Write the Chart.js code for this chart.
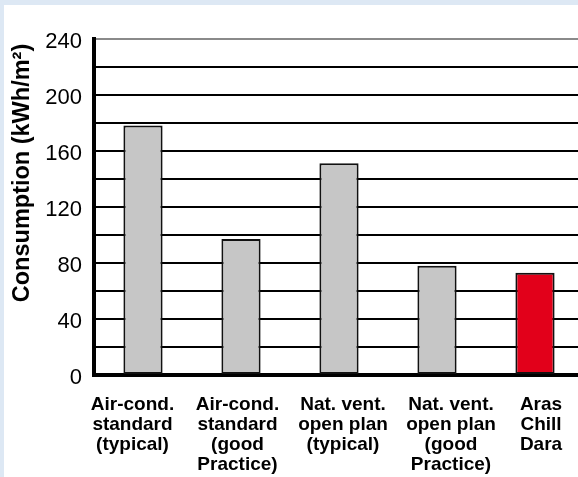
<!DOCTYPE html>
<html>
<head>
<meta charset="utf-8">
<script src="https://cdn.jsdelivr.net/npm/chart.js@4"></script>
<style>
  html, body { margin: 0; padding: 0; overflow: hidden; width: 578px; height: 477px; background: #dde8f4; }
  #panel { position: absolute; left: 4px; top: 5px; width: 600px; height: 500px; background: #ffffff; }
  #chart { position: absolute; left: 0; top: 0; }
</style>
</head>
<body>
<div id="panel"></div>
<canvas id="chart" width="590" height="477"></canvas>
<script>
// Annual energy consumption per building type (kWh/m²)
const categories = [
  ['Air-cond.', 'standard', '(typical)'],
  ['Air-cond.', 'standard', '(good', 'Practice)'],
  ['Nat. vent.', 'open plan', '(typical)'],
  ['Nat. vent.', 'open plan', '(good', 'Practice)'],
  ['Aras', 'Chill', 'Dara']
];
const consumption = [178, 97, 151, 78, 73];
const barColors = ['#c6c6c6', '#c6c6c6', '#c6c6c6', '#c6c6c6', '#e2001a'];
const yTickLabels = [0, 40, 80, 120, 160, 200, 240];
const yTitle = 'Consumption (kWh/m²)';

const FONT = "'Liberation Sans', Arial, Helvetica, sans-serif";
// horizontal nudge of each category caption relative to its bar
const captionShift = [-10.5, -3.5, 4, 14, 6];

// Draws the multi-line category captions and the rotated axis title.
const captionPlugin = {
  id: 'captions',
  afterDraw(chart) {
    const { ctx, scales: { x } } = chart;
    ctx.save();
    ctx.fillStyle = '#000000';
    ctx.textAlign = 'center';
    ctx.textBaseline = 'middle';
    ctx.font = `bold 19px ${FONT}`;
    const lineH = 20;
    chart.data.labels.forEach((lines, i) => {
      const cx = x.getPixelForTick(i) + captionShift[i];
      lines.forEach((t, k) => ctx.fillText(t, cx, x.top + 30 + k * lineH));
    });
    ctx.translate(22.5, 173);
    ctx.rotate(-Math.PI / 2);
    ctx.font = `bold 23.5px ${FONT}`;
    ctx.fillText(yTitle, 0, 0);
    ctx.restore();
  }
};

new Chart(document.getElementById('chart'), {
  type: 'bar',
  data: {
    labels: categories,
    datasets: [{
      data: consumption,
      backgroundColor: barColors,
      borderColor: '#111111',
      borderWidth: 2,
      borderSkipped: false,
      barPercentage: 0.4,
      categoryPercentage: 1.0
    }]
  },
  plugins: [captionPlugin],
  options: {
    responsive: false,
    animation: false,
    devicePixelRatio: 1,
    layout: { padding: { left: 4, top: 38.5, right: 6, bottom: 0 } },
    plugins: { legend: { display: false }, tooltip: { enabled: false } },
    scales: {
      x: {
        grid: { display: false, drawTicks: false },
        border: { display: true, color: '#000000', width: 4 },
        ticks: { display: false },
        afterFit: s => { s.height = 102; }
      },
      y: {
        min: 0,
        max: 240,
        grid: {
          drawTicks: false,
          color: c => (c.tick && c.tick.value === 240) ? '#8a8a8a' : '#000000',
          lineWidth: 2
        },
        border: { display: true, color: '#000000', width: 4 },
        ticks: {
          stepSize: 20,
          autoSkip: false,
          color: '#000000',
          padding: 12,
          labelOffset: 3,
          font: { family: FONT, size: 22 },
          callback: v => yTickLabels.includes(v) ? String(v) : ''
        },
        afterFit: s => { s.width = 90; }
      }
    }
  }
});
</script>
</body>
</html>
